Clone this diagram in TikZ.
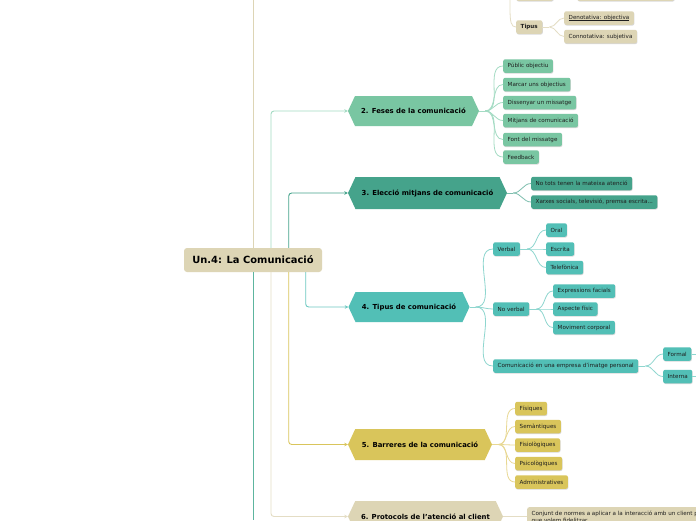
\documentclass[tikz,border=0pt]{standalone}
\usepackage{fontspec}
\setmainfont{DejaVu Sans}
\usetikzlibrary{shapes.symbols,shadows,arrows.meta}
\definecolor{tanbg}{HTML}{DDD5B5}
\definecolor{gA}{HTML}{79C6A2}
\definecolor{gB}{HTML}{45A38B}
\definecolor{gC}{HTML}{52BFB6}
\definecolor{gD}{HTML}{D9C55B}
\definecolor{lA}{HTML}{A3DBC3}
\definecolor{lC}{HTML}{8ED6CF}
\definecolor{lD}{HTML}{E8D893}
\definecolor{lE}{HTML}{E4DDC4}
\definecolor{lT}{HTML}{5DB59F}
\definecolor{txt}{HTML}{1E1E1E}
\newcommand\myul[1]{\setbox0\hbox{#1}\rlap{\rule[-1pt]{\wd0}{0.35pt}}\box0}
\tikzset{
  hexa/.style={shape=signal, signal to=west and east, signal pointer angle=130,
    inner xsep=2pt, inner ysep=0pt, text=black,
    font=\fontsize{6.9}{8}\bfseries\selectfont},
  leaf/.style={rectangle, rounded corners=2pt, inner xsep=4.5pt, inner ysep=0pt,
    minimum height=13.5pt, anchor=west, text=txt,
    font=\fontsize{5.6}{6.5}\selectfont,
    drop shadow={shadow xshift=0.5pt, shadow yshift=-0.8pt, opacity=0.3}},
  mainc/.style={line width=0.9pt, rounded corners=3pt, -{Stealth[length=3.5pt,width=3.5pt]}},
  subc/.style={line width=0.8pt},
}
\begin{document}
\begin{tikzpicture}[x=1pt,y=-1pt]
\useasboundingbox (0,0) rectangle (696,520);
\clip (0,0) rectangle (696,520);
\fill[white] (0,0) rectangle (696,520);

% root
\node[fill=tanbg, rounded corners=3pt, minimum width=138pt, minimum height=24pt,
  font=\fontsize{9.9}{11}\bfseries\selectfont] (root) at (253,260) {Un.4: La Comunicació};
\coordinate (upend) at (253.5,0);
\coordinate (downend) at (253.5,520);
\draw[line width=1pt, draw=tanbg] ([xshift=0.5pt]root.north) -- (upend);
\draw[line width=1pt, draw=lT] ([xshift=0.5pt]root.south) -- (downend);

% branches
\node[hexa, fill=gA, minimum width=131pt, minimum height=30pt] (b2) at (413.5,111) {2. Feses de la comunicació};
\node[hexa, fill=gB, minimum width=159pt, minimum height=32pt] (b3) at (427.5,193) {3. Elecció mitjans de comunicació};
\node[hexa, fill=gC, minimum width=121pt, minimum height=30pt] (b4) at (409,307) {4. Tipus de comunicació};
\node[hexa, fill=gD, minimum width=144pt, minimum height=31pt] (b5) at (420,444.5) {5. Barreres de la comunicació};
\node[hexa, fill=tanbg, minimum width=155pt, minimum height=31pt] (b6) at (425.5,516.5) {6. Protocols de l'atenció al client};

\draw[mainc, lA] ([xshift=18pt]root.north) |- (b2.west);
\draw[mainc, gB] ([xshift=35.7pt]root.north) |- (b3.west);
\draw[mainc, gC!85] ([xshift=52.7pt]root.south) |- (b4.west);
\draw[mainc, gD] ([xshift=35.7pt]root.south) |- (b5.west);
\draw[mainc, lE] ([xshift=18pt]root.south) |- (b6.west);

% branch 2 leaves
\node[leaf, fill=gA] (p1) at (503,66) {Públic objectiu};
\node[leaf, fill=gA] (p2) at (503,84.5) {Marcar uns objectius};
\node[leaf, fill=gA] (p3) at (503,102.5) {Dissenyar un missatge};
\node[leaf, fill=gA] (p4) at (503,120.5) {Mitjans de comunicació};
\node[leaf, fill=gA] (p5) at (503,139.5) {Font del missatge};
\node[leaf, fill=gA] (p6) at (503,157) {Feedback};
\coordinate (f2) at ([xshift=6pt]b2.east);
\draw[subc, lA] (b2.east) -- (f2);
\foreach \n in {p1,p2,p3,p4,p5,p6} \draw[subc, lA] (f2) to[out=0,in=180] (\n.west);

% branch 3 leaves
\node[leaf, fill=gB] (q1) at (531,183.5) {No tots tenen la mateixa atenció};
\node[leaf, fill=gB] (q2) at (531,202) {Xarxes socials, televisió, premsa escrita...};
\coordinate (f3) at ([xshift=6pt]b3.east);
\draw[subc, gB!70] (b3.east) -- (f3);
\foreach \n in {q1,q2} \draw[subc, gB!70] (f3) to[out=0,in=180] (\n.west);

% branch 4 leaves
\node[leaf, fill=gC] (v) at (493,249) {Verbal};
\node[leaf, fill=gC] (nv) at (493,309) {No verbal};
\node[leaf, fill=gC] (ce) at (493,366) {Comunicació en una empresa d'imatge personal};
\coordinate (f4) at ([xshift=6pt]b4.east);
\draw[subc, lC] (b4.east) -- (f4);
\foreach \n in {v,nv,ce} \draw[subc, lC] (f4) to[out=0,in=180] (\n.west);

\node[leaf, fill=gC] (v1) at (546,230) {Oral};
\node[leaf, fill=gC] (v2) at (546,249) {Escrita};
\node[leaf, fill=gC] (v3) at (546,267.5) {Telefònica};
\coordinate (fv) at ([xshift=7pt]v.east);
\draw[subc, lC] (v.east) -- (fv);
\foreach \n in {v1,v2,v3} \draw[subc, lC] (fv) to[out=0,in=180] (\n.west);

\node[leaf, fill=gC] (n1) at (553,291) {Expressions facials};
\node[leaf, fill=gC] (n2) at (553,309) {Aspecte físic};
\node[leaf, fill=gC] (n3) at (553,327.5) {Moviment corporal};
\coordinate (fn) at ([xshift=7pt]nv.east);
\draw[subc, lC] (nv.east) -- (fn);
\foreach \n in {n1,n2,n3} \draw[subc, lC] (fn) to[out=0,in=180] (\n.west);

\node[leaf, fill=gC] (c1) at (663,354) {Formal};
\node[leaf, fill=gC] (c2) at (663,376.5) {Interna};
\coordinate (fc) at ([xshift=7pt]ce.east);
\draw[subc, lC] (ce.east) -- (fc);
\foreach \n in {c1,c2} \draw[subc, lC] (fc) to[out=0,in=180] (\n.west);
\coordinate (c1end) at ([xshift=12pt]c1.east);
\coordinate (c2end) at ([xshift=12pt]c2.east);
\draw[subc, lC] (c1.east) -- (c1end);
\draw[subc, lC] (c2.east) -- (c2end);

% branch 5 leaves
\node[leaf, fill=gD] (r1) at (515,408.5) {Físiques};
\node[leaf, fill=gD] (r2) at (515,426.5) {Semàntiques};
\node[leaf, fill=gD] (r3) at (515,445) {Fisiològiques};
\node[leaf, fill=gD] (r4) at (515,463.5) {Psicològiques};
\node[leaf, fill=gD] (r5) at (515,482) {Administratives};
\coordinate (f5) at ([xshift=6pt]b5.east);
\draw[subc, lD] (b5.east) -- (f5);
\foreach \n in {r1,r2,r3,r4,r5} \draw[subc, lD] (f5) to[out=0,in=180] (\n.west);

% branch 6 leaf
\node[leaf, fill=tanbg, anchor=north west, inner ysep=3.5pt, align=left,
  font=\fontsize{5.6}{7}\selectfont] (s1) at (527,507)
  {Conjunt de normes a aplicar a la interacció amb un client per a\\que volem fidelitzar};
\draw[subc, lE] (b6.east) -- (b6.east -| s1.west);

% top (branch 1, mostly off-page)
\node[leaf, fill=tanbg, minimum width=37pt] (ta) at (516,-6) {};
\node[leaf, fill=tanbg, minimum width=97pt] (tb) at (577,-6) {};
\node[leaf, fill=tanbg, font=\fontsize{5.6}{6.5}\bfseries\selectfont] (tip) at (516,27) {Tipus};
\node[leaf, fill=tanbg] (d1) at (564,18) {\myul{Denotativa: objectiva}};
\node[leaf, fill=tanbg] (d2) at (564,36.5) {Connotativa: subjetiva};
\coordinate (f1) at (510,-20);
\draw[subc, lE] (f1) -- (510,8) .. controls (510,22) and (511,27) .. (tip.west);
\coordinate (ft) at ([xshift=7pt]tip.east);
\draw[subc, lE] (tip.east) -- (ft);
\foreach \n in {d1,d2} \draw[subc, lE] (ft) to[out=0,in=180] (\n.west);
\end{tikzpicture}
\end{document}
